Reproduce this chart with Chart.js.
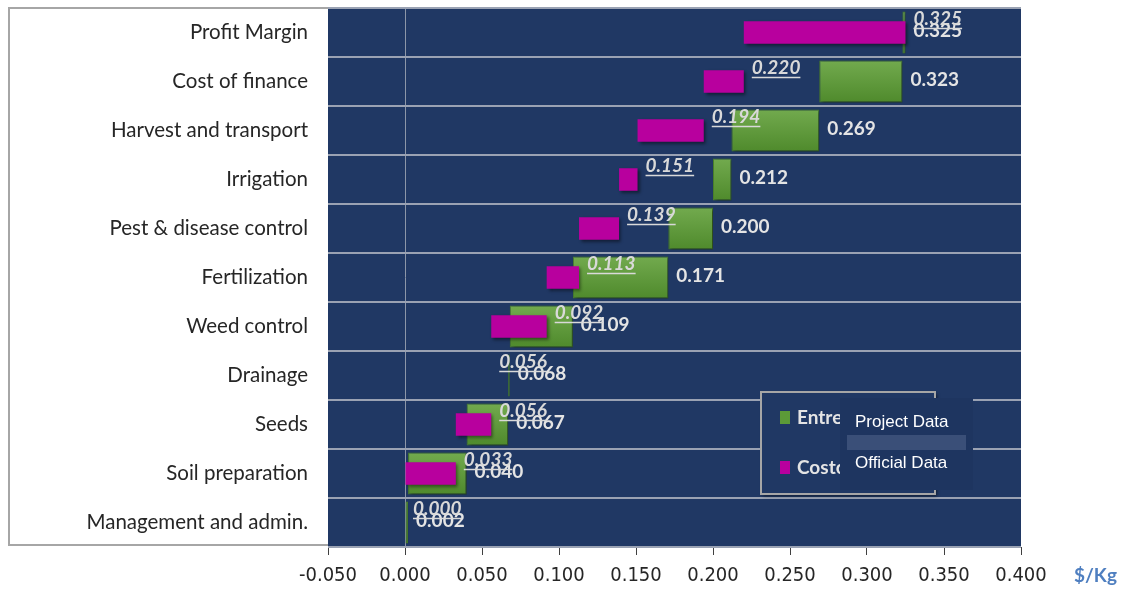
<!DOCTYPE html>
<html>
<head>
<meta charset="utf-8">
<script src="https://cdn.jsdelivr.net/npm/chart.js@4.4.1/dist/chart.umd.min.js"></script>
<style>
html,body{margin:0;padding:0;background:#ffffff;}
#wrap{position:relative;width:1124px;height:589px;}
</style>
</head>
<body>
<div id="wrap"><canvas id="c" width="1124" height="589"></canvas></div>
<script>
// Categories, bottom-up (waterfall order)
const categories = ["Management and admin.", "Soil preparation", "Seeds", "Drainage", "Weed control",
  "Fertilization", "Pest & disease control", "Irrigation", "Harvest and transport", "Cost of finance", "Profit Margin"];
// Project Data (green): cumulative start / end
const projectStart = [0.000, 0.002, 0.040, 0.067, 0.068, 0.109, 0.171, 0.200, 0.212, 0.269, 0.323];
const projectEnd   = [0.002, 0.040, 0.067, 0.068, 0.109, 0.171, 0.200, 0.212, 0.269, 0.323, 0.325];
// Official Data (magenta): cumulative start / end
const officialStart = [0.000, 0.000, 0.033, 0.056, 0.056, 0.092, 0.113, 0.139, 0.151, 0.194, 0.220];
const officialEnd   = [0.000, 0.033, 0.056, 0.056, 0.092, 0.113, 0.139, 0.151, 0.194, 0.220, 0.325];
const xTicks = [-0.05, 0, 0.05, 0.1, 0.15, 0.2, 0.25, 0.3, 0.35, 0.4];
const legendLabels = ["Entre", "Costo"];
const legendOverlay = ["Project Data", "Official Data"];

const NAVY = '#203864';

function greenFill(context) {
  const chart = context.chart;
  const y = chart.scales && chart.scales.y;
  if (!y || context.dataIndex === undefined || !isFinite(y.getPixelForValue(context.dataIndex))) return '#5C9A38';
  const c = y.getPixelForValue(context.dataIndex);
  const h = 21;
  const g = chart.ctx.createLinearGradient(0, c - h, 0, c + h);
  g.addColorStop(0, '#72AA4E');
  g.addColorStop(1, '#4F8A2C');
  return g;
}

const bgPlugin = {
  id: 'bg',
  beforeDraw(chart) {
    const {ctx, chartArea: a} = chart;
    ctx.save();
    ctx.fillStyle = NAVY;
    ctx.fillRect(a.left, a.top, a.right - a.left, a.bottom - a.top);
    ctx.strokeStyle = '#A6A6A6';
    ctx.lineWidth = 2;
    ctx.beginPath();
    ctx.moveTo(a.left, 8); ctx.lineTo(9, 8); ctx.lineTo(9, 545); ctx.lineTo(a.left, 545);
    ctx.stroke();
    ctx.restore();
  },
  beforeDatasetsDraw(chart) {
    const ctx = chart.ctx;
    ctx.save();
    ctx.shadowColor = 'rgba(0,0,0,0.45)';
    ctx.shadowOffsetX = 2; ctx.shadowOffsetY = 2; ctx.shadowBlur = 3;
  },
  afterDatasetsDraw(chart) {
    chart.ctx.restore();
  }
};

const labelPlugin = {
  id: 'labels',
  afterDatasetsDraw(chart) {
    const {ctx, scales: {x, y}} = chart;
    ctx.save();
    ctx.textBaseline = 'middle';
    ctx.textAlign = 'left';
    // green labels
    ctx.font = 'bold 19px Lato, "Open Sans", sans-serif';
    ctx.fillStyle = '#E4E4E4';
    categories.forEach((c, i) => {
      const xp = x.getPixelForValue(projectEnd[i]) + 8;
      const yp = y.getPixelForValue(i) - 2;
      ctx.fillText(projectEnd[i].toFixed(3), xp, yp);
    });
    // magenta labels (italic, underlined)
    ctx.font = 'italic bold 19px Lato, "Open Sans", sans-serif';
    ctx.fillStyle = '#D9D9D9';
    ctx.strokeStyle = '#D9D9D9';
    ctx.lineWidth = 1.5;
    categories.forEach((c, i) => {
      const t = officialEnd[i].toFixed(3);
      const xp = x.getPixelForValue(officialEnd[i]) + 8;
      const yp = y.getPixelForValue(i) - 14;
      ctx.fillText(t, xp, yp);
      const w = ctx.measureText(t).width;
      ctx.beginPath();
      ctx.moveTo(xp, yp + 10); ctx.lineTo(xp + w, yp + 10);
      ctx.stroke();
    });
    ctx.restore();
  },
  afterDraw(chart) {
    const ctx = chart.ctx;
    ctx.save();
    // unit label
    ctx.font = 'bold 19px Lato, sans-serif';
    ctx.fillStyle = '#4F7FC0';
    ctx.textBaseline = 'middle';
    ctx.textAlign = 'left';
    ctx.fillText('$/Kg', 1074, 576);
    // legend box
    ctx.shadowColor = 'rgba(0,0,0,0.5)';
    ctx.shadowOffsetX = 2; ctx.shadowOffsetY = 2; ctx.shadowBlur = 3;
    ctx.fillStyle = NAVY;
    ctx.fillRect(761, 392, 174, 102);
    ctx.shadowColor = 'transparent';
    ctx.strokeStyle = '#A6A6A6';
    ctx.lineWidth = 2;
    ctx.strokeRect(761, 392, 174, 102);
    ctx.fillStyle = '#5C9A38';
    ctx.fillRect(780, 411, 10, 13);
    ctx.fillStyle = '#B8009E';
    ctx.fillRect(780, 461, 10, 13);
    ctx.font = 'bold 19px Lato, sans-serif';
    ctx.fillStyle = '#E4E4E4';
    ctx.fillText(legendLabels[0], 797, 418);
    ctx.fillText(legendLabels[1], 797, 468);
    // overlay box
    ctx.fillStyle = '#1E3560';
    ctx.fillRect(840, 398, 133, 92);
    ctx.fillStyle = '#3A4F78';
    ctx.fillRect(847, 435, 119, 15);
    ctx.font = '17px "Liberation Sans", Arial, sans-serif';
    ctx.fillStyle = '#FFFFFF';
    ctx.fillText(legendOverlay[0], 855, 422);
    ctx.fillText(legendOverlay[1], 855, 463);
    ctx.restore();
  }
};

new Chart(document.getElementById('c'), {
  type: 'bar',
  data: {
    labels: categories,
    datasets: [
      {
        label: 'Official Data',
        data: categories.map((c, i) => [officialStart[i], officialEnd[i]]),
        backgroundColor: '#B8009E',
        borderWidth: 0,
        grouped: false,
        barPercentage: 0.46,
        categoryPercentage: 1,
        order: 0
      },
      {
        label: 'Project Data',
        data: categories.map((c, i) => [projectStart[i], projectEnd[i]]),
        backgroundColor: greenFill,
        borderColor: '#4A8029',
        borderWidth: 1,
        borderSkipped: false,
        grouped: false,
        barPercentage: 0.86,
        categoryPercentage: 1,
        order: 1
      }
    ]
  },
  options: {
    indexAxis: 'y',
    responsive: false,
    animation: false,
    layout: {padding: {left: 8, right: 103, top: 8, bottom: 0}},
    plugins: {legend: {display: false}, tooltip: {enabled: false}},
    scales: {
      x: {
        min: -0.05, max: 0.4,
        afterBuildTicks(axis) { axis.ticks = xTicks.map(v => ({value: v})); },
        afterFit(axis) { axis.height = 42; axis.paddingLeft = 0; axis.paddingRight = 0; },
        border: {display: false},
        grid: {
          color: ctx => (ctx.tick && Math.abs(ctx.tick.value) < 1e-9) ? '#8C96A8' : 'rgba(0,0,0,0)',
          tickColor: '#404040',
          tickLength: 8,
          lineWidth: 1
        },
        ticks: {
          color: '#262626',
          font: {family: '"Liberation Sans Narrow", "DejaVu Sans Condensed", sans-serif', size: 20},
          padding: 9,
          callback: v => Number(v).toFixed(3)
        }
      },
      y: {
        reverse: true,
        afterFit(axis) { axis.width = 320; axis.paddingTop = 0; axis.paddingBottom = 0; },
        border: {display: false},
        grid: {color: '#9AA2B3', lineWidth: 2, drawTicks: false, offset: true},
        ticks: {
          color: '#262626',
          font: {family: 'Lato, "Open Sans", sans-serif', size: 20.5},
          padding: 20
        }
      }
    }
  },
  plugins: [bgPlugin, labelPlugin]
});
</script>
</body>
</html>
